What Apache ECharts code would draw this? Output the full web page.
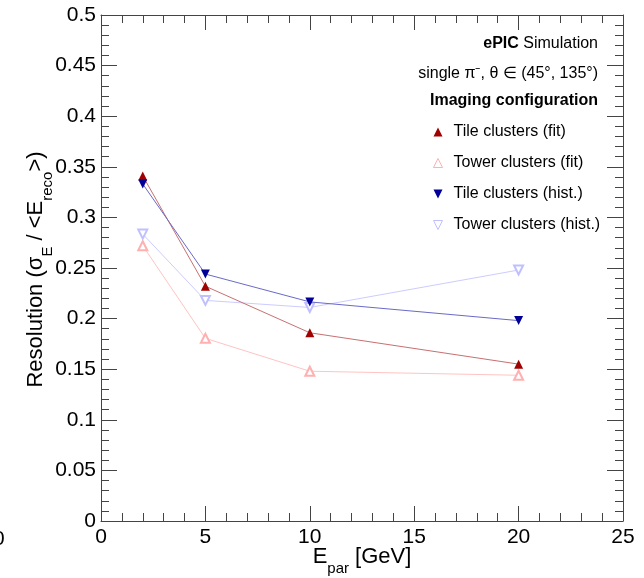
<!DOCTYPE html>
<html>
<head>
<meta charset="utf-8">
<script src="https://cdn.jsdelivr.net/npm/echarts@6/dist/echarts.min.js"></script>
<style>
html,body{margin:0;padding:0;background:#fff;}
#chart{width:644px;height:578px;}
</style>
</head>
<body>
<div id="chart"></div>
<script>
// Data
var energies = [2, 5, 10, 20];
var tileFit = [0.341, 0.232, 0.186, 0.155];
var towerFit = [0.272, 0.1805, 0.148, 0.144];
var tileHist = [0.333, 0.244, 0.2165, 0.198];
var towerHist = [0.2835, 0.218, 0.211, 0.248];
var seriesNames = ['Tile clusters (fit)', 'Tower clusters (fit)', 'Tile clusters (hist.)', 'Tower clusters (hist.)'];

function pairs(xs, ys) { return xs.map(function (x, i) { return [x, ys[i]]; }); }

var FONT = 'Liberation Sans';
var chart = echarts.init(document.getElementById('chart'));

var axisCommon = {
  type: 'value',
  axisLine: { show: true, onZero: false, lineStyle: { color: '#444', width: 1 } },
  splitLine: { show: false },
  minorSplitLine: { show: false }
};

var DOWN = 'path://M0,0 L10,0 L5,10 Z';

function mkSeries(name, data, color, lineColor, symbol, rotate, empty) {
  return {
    name: name,
    type: 'line',
    xAxisIndex: 0,
    yAxisIndex: 0,
    data: pairs(energies, data),
    symbol: symbol,
    symbolSize: 9,
    symbolRotate: rotate,
    showAllSymbol: true,
    lineStyle: { color: lineColor, width: 1 },
    itemStyle: empty ? { color: color, borderColor: color, borderWidth: 1 } : { color: color, borderWidth: 0 },
    emphasis: { disabled: true },
    animation: false,
    z: empty ? 2 : 3
  };
}

var option = {
  backgroundColor: '#fff',
  animation: false,
  grid: { left: 101, top: 15, right: 21, bottom: 57, outerBoundsMode: 'none', containLabel: false },
  xAxis: [
    Object.assign({}, axisCommon, {
      position: 'bottom', min: 0, max: 25, interval: 5,
      axisTick: { show: true, inside: true, length: 15, lineStyle: { color: '#444' } },
      minorTick: { show: true, splitNumber: 5, length: 8, lineStyle: { color: '#444' } },
      axisLabel: { show: true, margin: 6, fontFamily: FONT, fontSize: 21, color: '#000' },
      name: '{a|E}{s|par}{a| [GeV]}',
      nameLocation: 'middle',
      nameGap: 23,
      nameMoveOverlap: false,
      nameTextStyle: {
        verticalAlign: 'top',
        rich: {
          a: { fontFamily: FONT, fontSize: 22, color: '#000', lineHeight: 26 },
          s: { fontFamily: FONT, fontSize: 15, color: '#000', lineHeight: 15, verticalAlign: 'bottom', padding: [0, 0, -6, 0] }
        }
      }
    }),
    Object.assign({}, axisCommon, {
      position: 'top', min: 0, max: 25, interval: 5,
      axisTick: { show: true, inside: true, length: 15, lineStyle: { color: '#444' } },
      minorTick: { show: true, splitNumber: 5, length: 8, lineStyle: { color: '#444' } },
      axisLabel: { show: false }
    })
  ],
  yAxis: [
    Object.assign({}, axisCommon, {
      position: 'left', min: 0, max: 0.5, interval: 0.05,
      axisTick: { show: true, inside: true, length: 16, lineStyle: { color: '#444' } },
      minorTick: { show: true, splitNumber: 5, length: 8, lineStyle: { color: '#444' } },
      axisLabel: { show: true, margin: 5, fontFamily: FONT, fontSize: 21, color: '#000',
        formatter: function (v) { return String(+v.toFixed(2)); } },
      name: '{a|Resolution (σ}{s|E}{a| / <E}{s|reco}{a|>)}',
      nameLocation: 'middle',
      nameRotate: 90,
      nameGap: 52,
      nameMoveOverlap: false,
      nameTextStyle: {
        padding: [0, 3, 0, 0],
        rich: {
          a: { fontFamily: FONT, fontSize: 22, color: '#000', lineHeight: 26 },
          s: { fontFamily: FONT, fontSize: 15, color: '#000', lineHeight: 15, verticalAlign: 'bottom', padding: [0, 0, -6, 0] }
        }
      }
    }),
    Object.assign({}, axisCommon, {
      position: 'right', min: 0, max: 0.5, interval: 0.05,
      axisTick: { show: true, inside: true, length: 16, lineStyle: { color: '#444' } },
      minorTick: { show: true, splitNumber: 5, length: 8, lineStyle: { color: '#444' } },
      axisLabel: { show: false }
    })
  ],
  legend: {
    orient: 'vertical',
    left: 433,
    top: 122,
    padding: 0,
    itemWidth: 9,
    itemHeight: 9,
    itemGap: 11,
    selectedMode: false,
    textStyle: { fontFamily: FONT, fontSize: 16, color: '#000', lineHeight: 20, padding: [0, 0, 0, 6] },
    data: [
      { name: seriesNames[0], icon: 'triangle', itemStyle: { color: '#a00000', borderWidth: 0 } },
      { name: seriesNames[1], icon: 'triangle', itemStyle: { color: '#fff', borderColor: '#ffb0b0', borderWidth: 1 } },
      { name: seriesNames[2], icon: DOWN, itemStyle: { color: '#000099', borderWidth: 0 } },
      { name: seriesNames[3], icon: DOWN, itemStyle: { color: '#fff', borderColor: '#c0c0ff', borderWidth: 1 } }
    ]
  },
  graphic: [
    { type: 'text', right: 46, top: 36, style: { text: '{b|ePIC} Simulation', fontFamily: FONT, fontSize: 16, fill: '#000',
        rich: { b: { fontFamily: FONT, fontSize: 16, fontWeight: 'bold' } } } },
    { type: 'text', right: 46, top: 66, style: { text: 'single π⁻, θ ∈ (45°, 135°)', fontFamily: FONT, fontSize: 16, fill: '#000' } },
    { type: 'text', right: 46, top: 93, style: { text: 'Imaging configuration', fontFamily: FONT, fontSize: 16, fontWeight: 'bold', fill: '#000' } },
    { type: 'text', left: -7, top: 529, style: { text: '0', fontFamily: FONT, fontSize: 21, fill: '#000' } }
  ],
  series: [
    mkSeries(seriesNames[0], tileFit, '#a00000', '#c87070', 'triangle', 0, false),
    mkSeries(seriesNames[1], towerFit, '#ffb0b0', '#ffc4c4', 'emptyTriangle', 0, true),
    mkSeries(seriesNames[2], tileHist, '#000099', '#6a6ac8', 'triangle', 180, false),
    mkSeries(seriesNames[3], towerHist, '#c0c0ff', '#ccccff', 'emptyTriangle', 180, true)
  ]
};
chart.setOption(option);
</script>
</body>
</html>
